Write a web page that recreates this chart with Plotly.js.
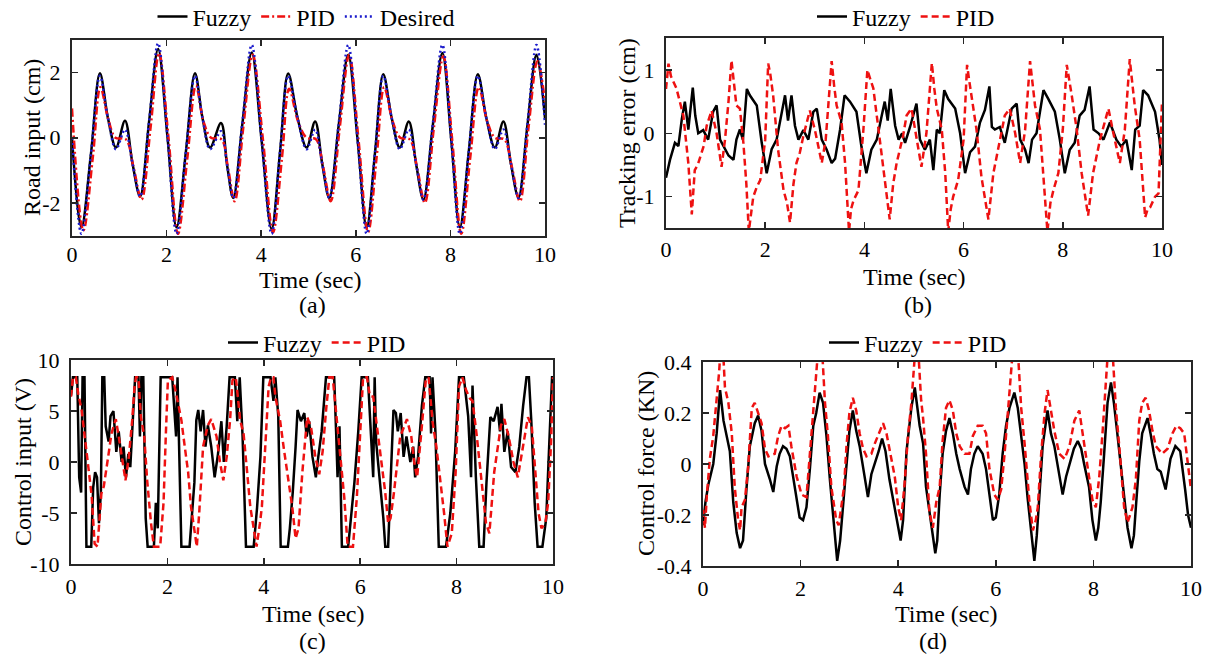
<!DOCTYPE html>
<html><head><meta charset="utf-8">
<script src="https://cdn.plot.ly/plotly-3.0.1.min.js"></script>
<style>html,body{margin:0;padding:0;background:#fff}#chart{width:1213px;height:654px}</style>
</head><body><div id="chart"></div>
<script>
// ---------- (a) Road input ----------
const aTime = [0,0.2,0.4,0.59,0.76,0.93,1.12,1.28,1.44,1.63,1.82,2.02,
  2.21,2.41,2.6,2.76,2.92,3.15,3.28,3.41,3.6,3.8,4.01,
  4.22,4.4,4.57,4.77,4.96,5.14,5.29,5.44,5.64,5.84,6.04,
  6.23,6.41,6.58,6.76,6.93,7.12,7.28,7.43,7.63,7.83,8.02,
  8.2,8.39,8.58,8.76,8.94,9.12,9.28,9.44,9.63,9.82,10];
const aFuzzy = [0.0,-2.75,-0.5,1.98,0.6,-0.3,0.52,-0.8,-1.8,0.5,2.72,0.0,
  -2.75,-0.4,1.98,0.6,-0.3,0.45,-0.85,-1.85,0.4,2.62,-0.1,
  -2.8,-0.4,1.97,0.6,-0.3,0.5,-0.8,-1.85,0.4,2.55,-0.1,
  -2.75,-0.4,1.95,0.6,-0.3,0.5,-0.85,-1.9,0.4,2.6,-0.1,
  -2.75,-0.4,1.95,0.6,-0.3,0.5,-0.8,-1.83,0.4,2.55,0.6];
const aDesired = [0.0,-2.95,-0.5,1.9,0.6,-0.35,0.25,-0.8,-1.8,0.5,2.9,0.0,
  -2.95,-0.4,1.9,0.6,-0.35,0.2,-0.85,-1.85,0.45,2.85,-0.1,
  -2.95,-0.4,1.9,0.6,-0.35,0.25,-0.8,-1.85,0.45,2.85,-0.1,
  -2.95,-0.4,1.9,0.6,-0.35,0.25,-0.85,-1.9,0.45,2.85,-0.1,
  -2.95,-0.4,1.9,0.6,-0.35,0.25,-0.8,-1.85,0.45,2.85,0.4];
const aPidTime = [0,0.24,0.44,0.6,0.77,0.92,1.14,1.3,1.47,1.66,1.84,2.04,
  2.24,2.44,2.62,2.78,2.94,3.16,3.3,3.44,3.62,3.82,4.04,
  4.25,4.44,4.59,4.78,4.96,5.16,5.31,5.47,5.66,5.86,6.06,
  6.26,6.44,6.6,6.78,6.94,7.14,7.3,7.46,7.65,7.85,8.04,
  8.23,8.42,8.6,8.78,8.94,9.14,9.3,9.47,9.65,9.84,10];
const aPid = [0.9,-2.85,-0.6,1.55,0.55,0.0,-0.05,-0.9,-1.9,0.3,2.6,0.0,
  -2.95,-0.6,1.6,0.5,0.0,-0.05,-0.95,-1.95,0.3,2.55,-0.1,
  -2.9,-0.6,1.5,0.5,0.0,-0.05,-0.9,-1.95,0.3,2.55,-0.1,
  -2.9,-0.6,1.55,0.5,0.0,-0.05,-0.95,-2.0,0.3,2.5,-0.1,
  -2.95,-0.6,1.55,0.5,0.0,-0.05,-0.9,-1.95,0.3,2.35,1.1];

// ---------- (b) Tracking error : [time, value] ----------
const bFuzzy = [[0,-0.7],[0.08,-0.42],[0.18,-0.15],[0.25,-0.2],[0.32,0.23],[0.38,0.5],[0.45,0.06],[0.54,0.72],[0.59,0.28],[0.65,0.0],[0.75,0.05],[0.85,-0.1],[0.95,0.34],[1.02,0.44],[1.09,-0.1],[1.19,-0.26],[1.26,-0.35],[1.36,-0.42],[1.42,-0.1],[1.49,0.06],[1.55,-0.1],[1.63,0.7],[1.69,0.6],[1.83,0.44],[1.93,-0.15],[2.03,-0.63],[2.13,-0.25],[2.23,-0.1],[2.33,0.28],[2.4,0.6],[2.46,0.2],[2.53,0.6],[2.6,0.12],[2.67,-0.1],[2.77,0.05],[2.87,-0.1],[2.97,0.34],[3.04,0.39],[3.14,-0.1],[3.24,-0.26],[3.34,-0.47],[3.41,-0.4],[3.51,0.06],[3.6,0.6],[3.71,0.5],[3.84,0.34],[3.94,-0.21],[4.04,-0.63],[4.14,-0.26],[4.25,-0.1],[4.35,0.28],[4.41,0.5],[4.47,0.2],[4.53,0.7],[4.62,0.12],[4.69,-0.1],[4.76,0.0],[4.82,-0.15],[4.92,0.1],[5.05,0.47],[5.12,-0.1],[5.22,-0.26],[5.32,-0.1],[5.39,-0.58],[5.46,0.06],[5.52,0.0],[5.61,0.68],[5.69,0.54],[5.83,0.39],[5.93,0.0],[6.03,-0.63],[6.13,-0.3],[6.23,-0.21],[6.33,0.17],[6.43,0.37],[6.52,0.74],[6.57,0.1],[6.63,0.06],[6.73,0.1],[6.83,-0.15],[6.97,0.39],[7.07,0.47],[7.14,-0.1],[7.24,-0.26],[7.31,-0.47],[7.38,-0.1],[7.47,0.0],[7.54,0.37],[7.61,0.68],[7.71,0.54],[7.84,0.34],[7.94,-0.1],[8.04,-0.63],[8.14,-0.26],[8.24,-0.15],[8.34,0.28],[8.44,0.37],[8.54,0.74],[8.62,0.06],[8.72,0.0],[8.82,-0.1],[8.95,0.17],[9.08,-0.1],[9.18,-0.21],[9.28,-0.1],[9.39,-0.58],[9.46,0.06],[9.55,0.12],[9.62,0.68],[9.72,0.6],[9.86,0.34],[9.95,-0.1],[10,-0.5]];
const bPid = [[0,0.7],[0.05,1.1],[0.1,0.9],[0.21,0.71],[0.35,0.28],[0.45,-0.47],[0.52,-1.28],[0.58,-0.58],[0.64,-0.5],[0.69,-0.37],[0.76,-0.2],[0.82,0.12],[0.92,0.36],[1.02,0.0],[1.12,-0.53],[1.19,-0.1],[1.26,0.5],[1.32,1.15],[1.37,0.8],[1.42,0.44],[1.49,0.39],[1.56,-0.15],[1.62,-0.8],[1.67,-1.55],[1.71,-1.3],[1.76,-1.0],[1.83,-0.85],[1.9,-0.74],[2.0,-0.1],[2.06,1.1],[2.1,0.95],[2.16,0.6],[2.26,-0.26],[2.37,-0.9],[2.44,-1.1],[2.5,-1.41],[2.57,-0.8],[2.63,-0.47],[2.7,-0.3],[2.77,-0.04],[2.9,0.36],[3.0,0.06],[3.07,-0.2],[3.14,-0.47],[3.22,-0.1],[3.34,1.14],[3.39,0.75],[3.44,0.44],[3.54,0.17],[3.61,-0.47],[3.69,-1.55],[3.73,-1.2],[3.78,-1.06],[3.88,-0.9],[3.98,0.06],[4.06,1.0],[4.12,0.85],[4.18,0.71],[4.31,-0.1],[4.41,-0.74],[4.51,-1.36],[4.58,-0.8],[4.65,-0.47],[4.78,-0.04],[4.85,0.28],[4.95,0.39],[5.05,-0.1],[5.15,-0.53],[5.25,0.0],[5.36,1.11],[5.41,0.7],[5.46,0.39],[5.56,0.06],[5.63,-0.63],[5.69,-1.55],[5.74,-1.2],[5.79,-1.0],[5.89,-0.74],[6.0,-0.1],[6.07,1.08],[6.11,0.85],[6.16,0.6],[6.26,0.06],[6.36,-0.69],[6.5,-1.36],[6.6,-0.63],[6.73,-0.1],[6.83,0.28],[6.93,0.39],[7.04,0.0],[7.14,-0.47],[7.24,0.05],[7.34,1.14],[7.39,0.75],[7.44,0.44],[7.54,0.06],[7.61,-0.63],[7.69,-1.55],[7.75,-1.1],[7.81,-0.9],[7.91,-0.63],[8.0,0.06],[8.08,1.08],[8.13,0.8],[8.18,0.6],[8.28,0.06],[8.38,-0.63],[8.51,-1.3],[8.61,-0.63],[8.75,-0.1],[8.92,0.39],[9.02,0.0],[9.15,-0.47],[9.25,0.05],[9.35,1.17],[9.4,0.8],[9.45,0.44],[9.55,-0.1],[9.66,-1.33],[9.71,-1.2],[9.76,-1.17],[9.86,-1.0],[9.93,-0.95],[10,0.5]];

// ---------- (c) Control input : [time, value] ----------
const cFuzzy = [[0,6.5],[0.04,8.3],[0.13,8.3],[0.17,-1.5],[0.21,-3.0],[0.24,8.3],[0.28,8.3],[0.32,-8.3],[0.42,-8.3],[0.46,-2.5],[0.5,-1.0],[0.54,-1.5],[0.58,-6.0],[0.62,-3.0],[0.65,8.3],[0.69,8.3],[0.72,3.5],[0.78,2.0],[0.82,4.5],[0.88,5.0],[0.94,1.0],[0.99,3.0],[1.05,0.0],[1.09,1.5],[1.14,-1.5],[1.19,0.8],[1.23,-0.5],[1.29,4.5],[1.33,8.3],[1.4,8.3],[1.43,2.5],[1.46,8.3],[1.5,8.3],[1.55,-5.5],[1.59,-8.3],[1.72,-8.3],[1.76,-4.0],[1.8,-6.5],[1.86,8.3],[2.1,8.3],[2.18,2.5],[2.21,8.3],[2.25,1.0],[2.29,-8.3],[2.46,-8.3],[2.52,-5.0],[2.56,-2.0],[2.6,4.1],[2.64,5.1],[2.69,3.0],[2.74,5.1],[2.79,1.5],[2.84,3.6],[2.91,1.5],[2.98,-1.5],[3.05,0.8],[3.12,4.0],[3.17,0.0],[3.23,3.5],[3.29,8.3],[3.4,8.3],[3.45,4.0],[3.5,8.3],[3.56,2.5],[3.63,-8.3],[3.79,-8.3],[3.86,-4.5],[3.93,0.5],[3.99,8.3],[4.14,8.3],[4.2,6.0],[4.24,8.3],[4.3,4.5],[4.35,-8.3],[4.5,-8.3],[4.54,-6.5],[4.6,-3.0],[4.66,1.5],[4.7,5.1],[4.77,4.0],[4.84,4.8],[4.89,2.5],[4.94,4.0],[5.01,0.5],[5.08,-1.5],[5.13,0.5],[5.2,3.0],[5.29,8.3],[5.46,8.3],[5.5,3.0],[5.53,-1.5],[5.57,3.5],[5.62,-8.3],[5.75,-8.3],[5.8,-6.0],[5.88,-2.0],[5.96,3.0],[6.03,8.3],[6.16,8.3],[6.24,2.0],[6.27,-1.5],[6.3,8.3],[6.33,2.0],[6.4,-1.5],[6.48,-5.5],[6.52,-8.3],[6.58,-8.3],[6.63,-2.0],[6.69,5.1],[6.74,4.8],[6.78,3.0],[6.84,4.8],[6.9,0.5],[6.96,2.5],[7.04,0.0],[7.1,1.5],[7.14,-1.5],[7.2,0.5],[7.28,5.5],[7.35,8.3],[7.44,8.3],[7.47,2.8],[7.5,8.3],[7.56,3.0],[7.63,-8.3],[7.78,-8.3],[7.87,-5.0],[7.97,1.0],[8.05,8.3],[8.15,8.3],[8.24,4.5],[8.3,-1.5],[8.33,7.5],[8.4,-1.5],[8.47,-8.3],[8.56,-8.3],[8.62,-2.0],[8.7,4.4],[8.77,4.0],[8.85,5.4],[8.9,3.0],[8.93,5.7],[8.99,1.0],[9.06,3.0],[9.13,-0.5],[9.22,-1.0],[9.3,1.5],[9.38,5.5],[9.45,8.3],[9.5,8.3],[9.55,4.0],[9.62,-4.0],[9.68,-8.3],[9.78,-8.3],[9.86,-5.5],[9.92,1.5],[9.98,8.3],[10,8.3]];
const cPid = [[0,6.4],[0.04,8.3],[0.1,8.3],[0.15,6.7],[0.22,5.1],[0.29,2.5],[0.36,-0.5],[0.43,-3.4],[0.49,-8.0],[0.55,-8.3],[0.58,-6.0],[0.63,-3.1],[0.68,-2.4],[0.73,-1.0],[0.78,0.8],[0.84,2.8],[0.89,3.6],[0.93,4.2],[0.99,2.5],[1.06,0.2],[1.13,-1.8],[1.2,0.5],[1.27,4.1],[1.32,7.5],[1.35,8.3],[1.4,8.3],[1.45,4.4],[1.52,2.5],[1.58,-1.8],[1.66,-6.0],[1.72,-8.3],[1.85,-8.3],[1.92,-4.0],[1.97,3.0],[2.01,8.0],[2.1,8.3],[2.15,7.4],[2.22,5.8],[2.29,4.1],[2.36,1.5],[2.43,-1.0],[2.49,-4.4],[2.56,-7.0],[2.61,-8.3],[2.66,-5.0],[2.7,-1.8],[2.74,1.5],[2.84,3.6],[2.91,4.2],[3.02,2.5],[3.09,0.0],[3.16,-1.8],[3.23,0.5],[3.3,4.1],[3.35,8.0],[3.42,8.3],[3.51,4.1],[3.58,2.8],[3.65,-0.8],[3.72,-4.4],[3.79,-6.5],[3.85,-8.3],[3.92,-6.0],[3.96,-4.4],[4.03,1.5],[4.1,7.4],[4.15,8.3],[4.2,8.3],[4.24,6.4],[4.34,4.0],[4.41,1.5],[4.5,-1.5],[4.59,-4.4],[4.66,-7.5],[4.72,-6.5],[4.8,-1.0],[4.9,4.4],[4.98,3.4],[5.07,0.5],[5.15,-1.2],[5.22,1.0],[5.3,5.5],[5.36,8.3],[5.43,8.3],[5.52,3.6],[5.6,0.0],[5.67,-3.5],[5.74,-8.3],[5.85,-8.3],[5.93,-3.5],[6.0,3.0],[6.06,8.3],[6.14,8.3],[6.2,6.5],[6.27,6.4],[6.35,3.5],[6.45,0.0],[6.52,-3.0],[6.58,-6.0],[6.63,-5.5],[6.7,-3.0],[6.83,2.5],[6.97,4.2],[7.06,2.5],[7.12,0.0],[7.18,-1.5],[7.27,3.0],[7.36,8.0],[7.42,8.3],[7.5,4.0],[7.58,1.5],[7.66,-1.5],[7.74,-5.0],[7.81,-8.3],[7.9,-7.0],[7.98,-1.0],[8.05,7.4],[8.12,8.3],[8.2,7.0],[8.28,6.2],[8.33,6.0],[8.42,2.5],[8.5,-1.0],[8.61,-6.0],[8.68,-7.0],[8.78,-1.0],[8.92,3.6],[8.99,4.2],[9.08,2.5],[9.18,0.0],[9.27,-1.5],[9.36,1.0],[9.48,4.4],[9.56,3.5],[9.64,-1.0],[9.7,-5.0],[9.76,-6.5],[9.84,-6.0],[9.9,-4.0],[9.96,2.0],[10,8.3]];

// ---------- (d) Control force : [time, value] ----------
const dFuzzy = [[0,-0.24],[0.05,-0.15],[0.11,-0.08],[0.21,0.0],[0.28,0.12],[0.35,0.29],[0.42,0.17],[0.48,0.12],[0.55,0.05],[0.62,-0.15],[0.69,-0.27],[0.76,-0.33],[0.82,-0.3],[0.89,-0.1],[0.96,0.07],[1.06,0.16],[1.13,0.19],[1.2,0.13],[1.27,0.0],[1.37,-0.06],[1.44,-0.11],[1.51,-0.01],[1.57,0.04],[1.64,0.07],[1.71,0.06],[1.78,0.03],[1.85,-0.05],[1.92,-0.13],[1.98,-0.21],[2.05,-0.22],[2.12,-0.17],[2.19,-0.02],[2.26,0.15],[2.32,0.2],[2.39,0.28],[2.46,0.24],[2.53,0.11],[2.6,-0.06],[2.67,-0.22],[2.75,-0.38],[2.81,-0.3],[2.87,-0.17],[2.94,-0.02],[3.0,0.13],[3.07,0.21],[3.14,0.13],[3.21,0.07],[3.28,-0.02],[3.38,-0.13],[3.45,-0.04],[3.52,0.0],[3.6,0.05],[3.67,0.1],[3.74,0.05],[3.82,-0.06],[3.93,-0.17],[4.0,-0.25],[4.05,-0.3],[4.1,-0.22],[4.17,0.05],[4.27,0.22],[4.34,0.3],[4.44,0.15],[4.51,0.08],[4.57,-0.09],[4.64,-0.19],[4.71,-0.28],[4.76,-0.35],[4.8,-0.3],[4.85,-0.12],[4.91,0.04],[4.98,0.13],[5.05,0.18],[5.12,0.12],[5.19,0.04],[5.26,-0.02],[5.36,-0.09],[5.43,-0.12],[5.49,-0.02],[5.56,0.04],[5.63,0.07],[5.73,0.04],[5.8,-0.02],[5.87,-0.13],[5.94,-0.22],[6.0,-0.21],[6.07,-0.12],[6.14,0.04],[6.21,0.15],[6.28,0.22],[6.38,0.28],[6.45,0.22],[6.52,0.12],[6.59,0.0],[6.65,-0.13],[6.72,-0.25],[6.79,-0.38],[6.84,-0.28],[6.9,-0.08],[6.96,0.07],[7.06,0.21],[7.13,0.12],[7.2,0.07],[7.27,-0.01],[7.37,-0.12],[7.44,-0.05],[7.51,0.0],[7.6,0.06],[7.68,0.09],[7.75,0.06],[7.81,0.0],[7.91,-0.09],[7.98,-0.22],[8.05,-0.3],[8.1,-0.25],[8.15,-0.15],[8.22,0.04],[8.29,0.24],[8.36,0.32],[8.42,0.24],[8.49,0.12],[8.56,0.0],[8.63,-0.13],[8.7,-0.25],[8.78,-0.33],[8.83,-0.28],[8.87,-0.17],[8.94,0.01],[9.0,0.12],[9.11,0.18],[9.17,0.12],[9.24,0.04],[9.31,-0.02],[9.38,-0.03],[9.48,-0.1],[9.58,0.02],[9.68,0.07],[9.78,0.05],[9.88,-0.1],[9.94,-0.2],[10,-0.25]];
const dPid = [[0,-0.18],[0.04,-0.25],[0.08,-0.12],[0.14,0.02],[0.21,0.11],[0.28,0.24],[0.33,0.36],[0.36,0.45],[0.41,0.45],[0.45,0.3],[0.52,0.24],[0.59,0.12],[0.65,-0.09],[0.72,-0.22],[0.76,-0.26],[0.79,-0.17],[0.86,-0.14],[0.93,0.0],[1.0,0.22],[1.06,0.24],[1.13,0.2],[1.2,0.16],[1.27,0.06],[1.34,0.03],[1.47,0.04],[1.54,0.11],[1.61,0.15],[1.68,0.14],[1.75,0.15],[1.81,0.07],[1.92,-0.05],[2.02,-0.12],[2.12,-0.13],[2.19,0.04],[2.26,0.22],[2.32,0.36],[2.36,0.45],[2.44,0.45],[2.5,0.24],[2.56,0.11],[2.63,-0.09],[2.73,-0.22],[2.78,-0.24],[2.84,-0.16],[2.89,-0.09],[2.94,0.07],[3.0,0.2],[3.07,0.26],[3.14,0.21],[3.21,0.12],[3.28,0.06],[3.35,0.03],[3.45,0.04],[3.52,0.08],[3.62,0.13],[3.69,0.16],[3.76,0.12],[3.84,0.04],[3.93,-0.05],[4.0,-0.17],[4.06,-0.22],[4.13,-0.08],[4.2,0.11],[4.27,0.24],[4.32,0.38],[4.35,0.45],[4.41,0.45],[4.47,0.25],[4.51,0.18],[4.57,0.04],[4.64,-0.19],[4.71,-0.25],[4.78,-0.15],[4.85,-0.09],[4.91,0.09],[4.98,0.22],[5.05,0.25],[5.12,0.21],[5.19,0.12],[5.26,0.07],[5.36,0.04],[5.46,0.04],[5.53,0.11],[5.63,0.15],[5.73,0.15],[5.8,0.12],[5.87,-0.02],[5.97,-0.12],[6.04,-0.14],[6.11,-0.1],[6.18,0.04],[6.24,0.18],[6.31,0.33],[6.35,0.45],[6.45,0.45],[6.52,0.22],[6.59,0.08],[6.69,-0.15],[6.76,-0.26],[6.82,-0.22],[6.86,-0.17],[6.93,0.04],[7.0,0.2],[7.06,0.29],[7.13,0.21],[7.2,0.13],[7.3,0.04],[7.41,0.02],[7.51,0.07],[7.61,0.17],[7.71,0.21],[7.77,0.13],[7.84,0.04],[7.91,-0.05],[7.98,-0.14],[8.05,-0.17],[8.12,-0.05],[8.19,0.13],[8.25,0.3],[8.3,0.45],[8.39,0.45],[8.46,0.22],[8.53,0.07],[8.63,-0.17],[8.7,-0.23],[8.8,-0.17],[8.87,-0.06],[8.94,0.17],[9.0,0.24],[9.07,0.26],[9.14,0.21],[9.21,0.13],[9.28,0.07],[9.41,0.04],[9.52,0.06],[9.62,0.12],[9.7,0.15],[9.78,0.14],[9.86,0.12],[9.94,0.0],[10,-0.1]];

// ---------- tick labels ----------
const xTicks = [0,2,4,6,8,10];
const xTickText = ['0','2','4','6','8','10'];
const aYTicks = [-2,0,2], aYText = ['-2','0','2'];
const bYTicks = [-1,0,1], bYText = ['-1','0','1'];
const cYTicks = [-10,-5,0,5,10], cYText = ['-10','-5','0','5','10'];
const dYTicks = [-0.4,-0.2,0,0.2,0.4], dYText = ['-0.4','-0.2','0','0.2','0.4'];

// ---------- layout helpers ----------
const W = 1213, H = 654;
const FONT = 'Liberation Serif, Times New Roman, serif';
const px = x => x / W, py = y => 1 - y / H;
const BLACK = '#000000', RED = '#ee1111', BLUE = '#1a1acc';
const RED_DASH = '7px,4px';

function axis(d0, d1, range, vals, text, anchor, standoff) {
  return {domain:[d0, d1], range:range, anchor:anchor, tickmode:'array', tickvals:vals, ticktext:text,
    showline:true, mirror:'ticks', linecolor:'#262626', linewidth:2, ticks:'inside', ticklen:6,
    tickwidth:1.5, tickcolor:'#262626', showgrid:false, zeroline:false, fixedrange:true,
    ticklabelstandoff:standoff, tickfont:{family:FONT, size:22, color:'#000'}};
}
const xs = a => a.map(p => p[0]);
const ys = a => a.map(p => p[1]);

const traces = [
  {x:aTime, y:aFuzzy, name:'Fuzzy', xaxis:'x', yaxis:'y', legend:'legend', mode:'lines',
   line:{color:BLACK, width:2.5, shape:'spline', smoothing:1}},
  {x:aPidTime, y:aPid, name:'PID', xaxis:'x', yaxis:'y', legend:'legend', mode:'lines',
   line:{color:RED, width:2.5, shape:'spline', smoothing:1, dash:'8px,3px,2px,3px'}},
  {x:aTime, y:aDesired, name:'Desired', xaxis:'x', yaxis:'y', legend:'legend', mode:'lines',
   line:{color:BLUE, width:2.5, shape:'spline', smoothing:1, dash:'2px,3px'}},

  {x:xs(bFuzzy), y:ys(bFuzzy), name:'Fuzzy', xaxis:'x2', yaxis:'y2', legend:'legend2', mode:'lines',
   line:{color:BLACK, width:2.5}},
  {x:xs(bPid), y:ys(bPid), name:'PID', xaxis:'x2', yaxis:'y2', legend:'legend2', mode:'lines',
   line:{color:RED, width:2.5, dash:RED_DASH}},

  {x:xs(cFuzzy), y:ys(cFuzzy), name:'Fuzzy', xaxis:'x3', yaxis:'y3', legend:'legend3', mode:'lines',
   line:{color:BLACK, width:2.5}},
  {x:xs(cPid), y:ys(cPid), name:'PID', xaxis:'x3', yaxis:'y3', legend:'legend3', mode:'lines',
   line:{color:RED, width:2.5, dash:RED_DASH}},

  {x:xs(dFuzzy), y:ys(dFuzzy), name:'Fuzzy', xaxis:'x4', yaxis:'y4', legend:'legend4', mode:'lines',
   line:{color:BLACK, width:2.5}},
  {x:xs(dPid), y:ys(dPid), name:'PID', xaxis:'x4', yaxis:'y4', legend:'legend4', mode:'lines',
   line:{color:RED, width:2.5, dash:RED_DASH}}
];

function legendAt(cx, cy) {
  return {orientation:'h', x:px(cx), y:py(cy), xanchor:'center', yanchor:'middle',
    bgcolor:'rgba(0,0,0,0)', borderwidth:0, itemwidth:30, tracegroupgap:0,
    font:{family:FONT, size:24, color:'#000'}, itemclick:false, itemdoubleclick:false};
}

function txt(text, x, y, angle) {
  return {text:text, x:px(x), y:py(y), xref:'paper', yref:'paper', showarrow:false,
    xanchor:'center', yanchor:'middle', textangle:angle || 0,
    font:{family:FONT, size:24, color:'#000'}};
}

const layout = {
  width:W, height:H, margin:{l:0, r:0, t:0, b:0, autoexpand:false}, paper_bgcolor:'#fff', plot_bgcolor:'#fff',
  font:{family:FONT, color:'#000'}, showlegend:true,
  xaxis: axis(px(72), px(545), [0,10], xTicks, xTickText, 'y', -2),
  yaxis: axis(py(235.5), py(40), [-3,3], aYTicks, aYText, 'x', 5),
  xaxis2: axis(px(666), px(1162), [0,10], xTicks, xTickText, 'y2', 0),
  yaxis2: axis(py(228.3), py(38.3), [-1.5,1.5], bYTicks, bYText, 'x2', 5),
  xaxis3: axis(px(71), px(553), [0,10], xTicks, xTickText, 'y3', 2),
  yaxis3: axis(py(564), py(360), [-10,10], cYTicks, cYText, 'x3', 5),
  xaxis4: axis(px(703), px(1191), [0,10], xTicks, xTickText, 'y4', 2),
  yaxis4: axis(py(566), py(362), [-0.4,0.4], dYTicks, dYText, 'x4', 5),
  legend: legendAt(306, 17),
  legend2: legendAt(906, 17),
  legend3: legendAt(317, 343),
  legend4: legendAt(918, 343),
  annotations: [
    txt('Road input (cm)', 32, 138, -90),
    txt('Tracking error (cm)', 627, 133, -90),
    txt('Control input (V)', 23, 462, -90),
    txt('Control force (KN)', 646, 464, -90),
    txt('Time (sec)', 310, 280),
    txt('Time (sec)', 914, 277),
    txt('Time (sec)', 313, 614),
    txt('Time (sec)', 946, 614),
    txt('(a)', 312, 305),
    txt('(b)', 918, 305),
    txt('(c)', 312, 641),
    txt('(d)', 933, 641)
  ]
};

Plotly.newPlot('chart', traces, layout, {displayModeBar:false, staticPlot:true});
</script>
</body></html>
